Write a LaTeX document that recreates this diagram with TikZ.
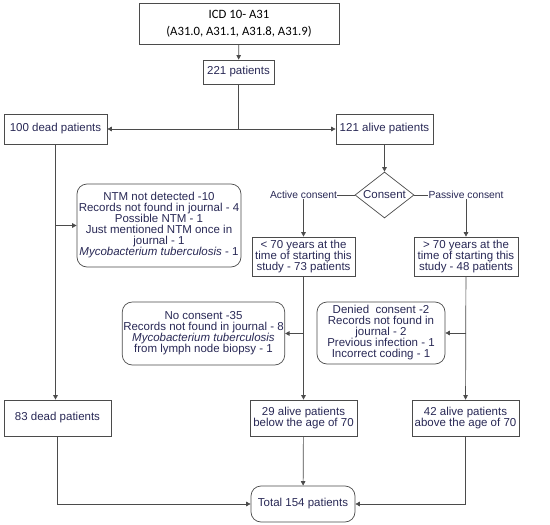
\documentclass[tikz,border=0pt]{standalone}
\usepackage{fontspec}
\setmainfont{Liberation Sans}
\newfontfamily\icdfont{Carlito}
\usetikzlibrary{arrows.meta,shapes.geometric}
\definecolor{linegray}{RGB}{75,75,75}
\definecolor{navytext}{RGB}{40,40,85}
\begin{document}
\begin{tikzpicture}[
		x=1pt, y=-1pt, line width=0.7pt,
		every node/.style={align=center, text=navytext, font=\fontsize{11.5}{11}\selectfont, inner sep=1pt},
		box/.style={draw=linegray, rectangle},
		roundbox/.style={draw=linegray, rectangle, rounded corners=10pt},
		arrow/.style={-{Triangle[length=4.5pt,width=4.5pt]}, draw=linegray},
		lbl/.style={fill=white, inner sep=0.5pt, font=\fontsize{10.3}{10.3}\selectfont},
	]
	\useasboundingbox (0,0) rectangle (550,525);

	\node[box, minimum width=200, minimum height=41, text=black, font=\icdfont\fontsize{12.7}{17}\selectfont] (icd) at (239, 23.5) {ICD 10- A31\\(A31.0, A31.1, A31.8, A31.9)};
	\node[box, minimum width=71, minimum height=24] (n221) at (238.5, 72) {221 patients};
	\node[box, minimum width=103, minimum height=30] (dead100) at (55.5, 129) {100 dead patients};
	\node[box, minimum width=97, minimum height=30] (alive121) at (384.5, 129) {121 alive patients};
	\node[draw=linegray, diamond, aspect=1.28, inner sep=0pt, minimum width=59, minimum height=46] (consent) at (384.5, 195) {Consent};

	\node[roundbox, minimum width=164, minimum height=83] (ntm) at (159, 225.5) {NTM not detected -10\\Records not found in journal - 4\\Possible NTM - 1\\Just mentioned NTM once in\\journal - 1\\\textit{Mycobacterium tuberculosis} - 1};
	\node[box, minimum width=103, minimum height=39] (lt70) at (303.5, 256.5) {< 70 years at the\\time of starting this\\study - 73 patients};
	\node[box, minimum width=104, minimum height=39] (gt70) at (466, 256.5) {> 70 years at the\\time of starting this\\study - 48 patients};

	\node[roundbox, minimum width=159, minimum height=63] (nocons) at (203.5, 333.5) {No consent -35\\Records not found in journal - 8\\\textit{Mycobacterium tuberculosis}\\from lymph node biopsy - 1};
	\node[roundbox, minimum width=128, minimum height=62] (denied) at (381, 333) {Denied\ \ consent -2\\Records not found in\\journal - 2\\Previous infection - 1\\Incorrect coding - 1};

	\node[box, minimum width=107, minimum height=36] (dead83) at (57.5, 418) {83 dead patients};
	\node[box, minimum width=107, minimum height=36] (alive29) at (303.5, 418) {29 alive patients\\below the age of 70};
	\node[box, minimum width=107, minimum height=36] (alive42) at (465.5, 418) {42 alive patients\\above the age of 70};
	\node[roundbox, minimum width=104, minimum height=36] (total) at (303, 504) {Total 154 patients};

	\coordinate (split) at (n221.south |- dead100.east);

	\draw[arrow] (icd) -- (n221);
	\draw[draw=linegray] (n221) -- (split);
	\draw[arrow] (split) -- (dead100);
	\draw[arrow] (split) -- (alive121);
	\draw[arrow] (alive121) -- (consent);
	\draw[arrow] (consent.west) -| node[lbl, pos=0.5] {Active consent} (lt70.north);
	\draw[arrow] (consent.east) -| node[lbl, pos=0.5] {Passive consent} (gt70.north);

	\draw[arrow] (dead100.south) -- (dead100.south |- dead83.north);
	\draw[arrow] (dead100.south |- ntm.west) -- (ntm.west);
	\draw[arrow] (lt70) -- (alive29);
	\draw[arrow] (lt70.south |- nocons.east) -- (nocons.east);
	\draw[arrow] (gt70) -- (alive42);
	\draw[arrow] (gt70.south |- denied.east) -- (denied.east);

	\draw[arrow] (alive29) -- (total);
	\draw[arrow] (dead83) |- (total);
	\draw[arrow] (alive42) |- (total);
\end{tikzpicture}
\end{document}
